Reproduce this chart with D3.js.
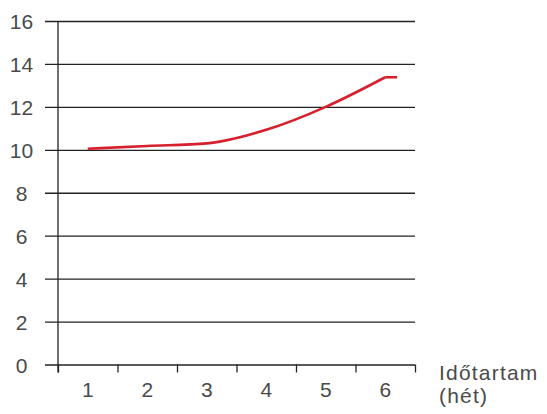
<!DOCTYPE html>
<html>
<head>
<meta charset="utf-8">
<script src="https://cdn.jsdelivr.net/npm/d3@7"></script>
<style>
    body { margin: 0; background: #fff; }
    svg text { font-family: "Liberation Sans", Arial, sans-serif; fill: #4a4a4a; }
</style>
</head>
<body>
<div class="canvas"></div>
<script>
// data
const weeks = [1, 2, 3, 4, 5, 6];
const curveX = [1, 2, 3, 4, 5, 6];
const curveY = [10.05, 10.18, 10.3, 10.93, 12.0, 13.38];
const tailX = [6, 6.2];
const tailY = [13.38, 13.38];
const yTicks = [0, 2, 4, 6, 8, 10, 12, 14, 16];
const xTitle = ["Időtartam", "(hét)"];

let margin = { left: 58, right: 132, top: 21, bottom: 49.5 };
let chartDims = {
    width: 547 - margin.left - margin.right,
    height: 414 - margin.top - margin.bottom,
};

let lineColor = "#222";
let themeColor = "#d6202e";

const svg = d3
    .select(".canvas")
    .append("svg")
    .attr("width", 547)
    .attr("height", 414);

const chart = svg
    .append("g")
    .attr("transform", `translate(${margin.left},${margin.top})`);

const x = d3.scaleLinear().domain([0.5, 6.5]).range([0, chartDims.width]);
const y = d3.scaleLinear().domain([0, 16]).range([chartDims.height, 0]);

// horizontal grid lines + y labels
const yAxis = d3
    .axisLeft(y)
    .tickValues(yTicks)
    .tickSize(-chartDims.width - 13)
    .tickPadding(0);

const yAxisGroup = chart
    .append("g")
    .attr("transform", "translate(-13,0)")
    .call(yAxis)
    .attr("font-family", null)
    .attr("font-size", null);

yAxisGroup.select(".domain").remove();
yAxisGroup.selectAll("line").attr("stroke", lineColor).attr("stroke-width", 1.3);
yAxisGroup
    .selectAll("text")
    .attr("x", -23.5)
    .attr("text-anchor", "middle")
    .attr("dy", "0.36em")
    .attr("fill", null)
    .style("font-size", "21px");

// x axis: ticks on the band edges, labels in the middle
const xAxisGroup = chart
    .append("g")
    .attr("transform", `translate(0,${chartDims.height})`);

const edges = weeks.map((d) => d - 0.5).concat([6.5]);
xAxisGroup.call(
    d3.axisBottom(x).tickValues(edges).tickSize(8).tickFormat("")
);
xAxisGroup.select(".domain").remove();
xAxisGroup.selectAll("line").attr("stroke", lineColor).attr("stroke-width", 1.3);

xAxisGroup
    .selectAll(".week")
    .data(weeks)
    .enter()
    .append("text")
    .attr("class", "week")
    .attr("x", (d) => x(d))
    .attr("y", 32.5)
    .attr("text-anchor", "middle")
    .style("font-size", "21px")
    .text((d) => d);

// vertical axis line
chart
    .append("line")
    .attr("x1", 0)
    .attr("x2", 0)
    .attr("y1", 0)
    .attr("y2", chartDims.height + 8)
    .attr("stroke", lineColor)
    .attr("stroke-width", 1.3);

// axis title
chart
    .append("text")
    .attr("y", chartDims.height + 15.5)
    .style("font-size", "21px")
    .style("letter-spacing", "1.2px")
    .selectAll("tspan")
    .data(xTitle)
    .enter()
    .append("tspan")
    .attr("x", chartDims.width + 24)
    .attr("dy", (d, i) => (i ? 23 : 0))
    .text((d) => d);

// the red curve
const lineGen = d3
    .line()
    .x((d) => x(d[0]))
    .y((d) => y(d[1]))
    .curve(d3.curveMonotoneX);

chart
    .append("path")
    .datum(d3.zip(curveX, curveY))
    .attr("d", lineGen)
    .attr("stroke", themeColor)
    .attr("stroke-width", 2.6)
    .attr("fill", "none");

chart
    .append("path")
    .datum(d3.zip(tailX, tailY))
    .attr("d", lineGen.curve(d3.curveLinear))
    .attr("stroke", themeColor)
    .attr("stroke-width", 2.6)
    .attr("fill", "none");
</script>
</body>
</html>
